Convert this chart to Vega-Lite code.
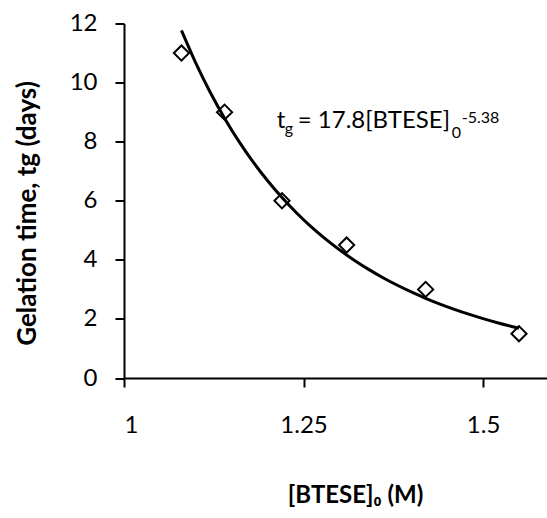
{
  "$schema": "https://vega.github.io/schema/vega-lite/v6.json",
  "width": 423,
  "height": 354.5,
  "autosize": {"type": "none"},
  "padding": {"left": 124, "top": 23.5, "right": 0, "bottom": 140},
  "background": "white",
  "config": {
    "view": {"stroke": null},
    "font": "Lato",
    "axis": {
      "grid": false,
      "domainColor": "black",
      "domainWidth": 2,
      "tickColor": "black",
      "tickWidth": 2,
      "tickSize": 9,
      "labelColor": "black",
      "labelFont": "Lato",
      "labelFontSize": 24,
      "titleColor": "black",
      "titleFont": "Lato",
      "titleFontWeight": "bold"
    }
  },
  "datasets": {
    "measured": [
      {"conc": 1.08, "tg": 11},
      {"conc": 1.14, "tg": 9},
      {"conc": 1.22, "tg": 6},
      {"conc": 1.31, "tg": 4.5},
      {"conc": 1.42, "tg": 3},
      {"conc": 1.55, "tg": 1.5}
    ],
    "fit": [
      {"conc": 1.08, "tg": 11.765},
      {"conc": 1.10, "tg": 10.659},
      {"conc": 1.12, "tg": 9.674},
      {"conc": 1.14, "tg": 8.796},
      {"conc": 1.16, "tg": 8.010},
      {"conc": 1.18, "tg": 7.306},
      {"conc": 1.20, "tg": 6.675},
      {"conc": 1.22, "tg": 6.107},
      {"conc": 1.24, "tg": 5.595},
      {"conc": 1.26, "tg": 5.134},
      {"conc": 1.28, "tg": 4.717},
      {"conc": 1.30, "tg": 4.339},
      {"conc": 1.32, "tg": 3.997},
      {"conc": 1.34, "tg": 3.686},
      {"conc": 1.36, "tg": 3.404},
      {"conc": 1.38, "tg": 3.147},
      {"conc": 1.40, "tg": 2.912},
      {"conc": 1.42, "tg": 2.698},
      {"conc": 1.44, "tg": 2.503},
      {"conc": 1.46, "tg": 2.324},
      {"conc": 1.48, "tg": 2.160},
      {"conc": 1.50, "tg": 2.009},
      {"conc": 1.52, "tg": 1.871},
      {"conc": 1.54, "tg": 1.744},
      {"conc": 1.55, "tg": 1.684}
    ],
    "equation": [{"conc": 1.2127, "tg": 8.475}]
  },
  "encoding": {
    "x": {
      "field": "conc",
      "type": "quantitative",
      "scale": {"domain": [1, 1.589], "nice": false, "zero": false},
      "axis": {
        "values": [1, 1.25, 1.5],
        "labelExpr": "'' + datum.value",
        "labelPadding": 26,
        "title": "[BTESE]₀ (M)",
        "titleFontSize": 24,
        "titleAlign": "center",
        "titleBaseline": "alphabetic",
        "titleX": 231,
        "titleY": 124
      }
    },
    "y": {
      "field": "tg",
      "type": "quantitative",
      "scale": {"domain": [0, 12], "nice": false},
      "axis": {
        "values": [0, 2, 4, 6, 8, 10, 12],
        "labelPadding": 18,
        "title": "Gelation time, tg (days)",
        "titleFontSize": 26,
        "titleAngle": 270,
        "titleAlign": "center",
        "titleBaseline": "alphabetic",
        "titleX": -89,
        "titleY": 189.5
      }
    }
  },
  "layer": [
    {
      "data": {"name": "measured"},
      "mark": {"type": "point", "shape": "diamond", "size": 230, "filled": true, "fill": "white", "stroke": "black", "strokeWidth": 2, "opacity": 1}
    },
    {
      "data": {"name": "fit"},
      "mark": {"type": "line", "color": "black", "strokeWidth": 3, "interpolate": "monotone"}
    },
    {
      "data": {"name": "equation"},
      "mark": {"type": "text", "text": "t", "font": "Lato", "fontSize": 24, "align": "left", "baseline": "alphabetic", "color": "black"}
    },
    {
      "data": {"name": "equation"},
      "mark": {"type": "text", "text": "g", "font": "Lato", "fontSize": 16, "align": "left", "baseline": "alphabetic", "dx": 8, "dy": 6, "color": "black"}
    },
    {
      "data": {"name": "equation"},
      "mark": {"type": "text", "text": "= 17.8[BTESE]", "font": "Lato", "fontSize": 24, "align": "left", "baseline": "alphabetic", "dx": 21, "color": "black"}
    },
    {
      "data": {"name": "equation"},
      "mark": {"type": "text", "text": "0", "font": "Lato", "fontSize": 16, "align": "left", "baseline": "alphabetic", "dx": 175, "dy": 10, "color": "black"}
    },
    {
      "data": {"name": "equation"},
      "mark": {"type": "text", "text": "-5.38", "font": "Lato", "fontSize": 16, "align": "left", "baseline": "alphabetic", "dx": 185, "dy": -5, "color": "black"}
    }
  ]
}
